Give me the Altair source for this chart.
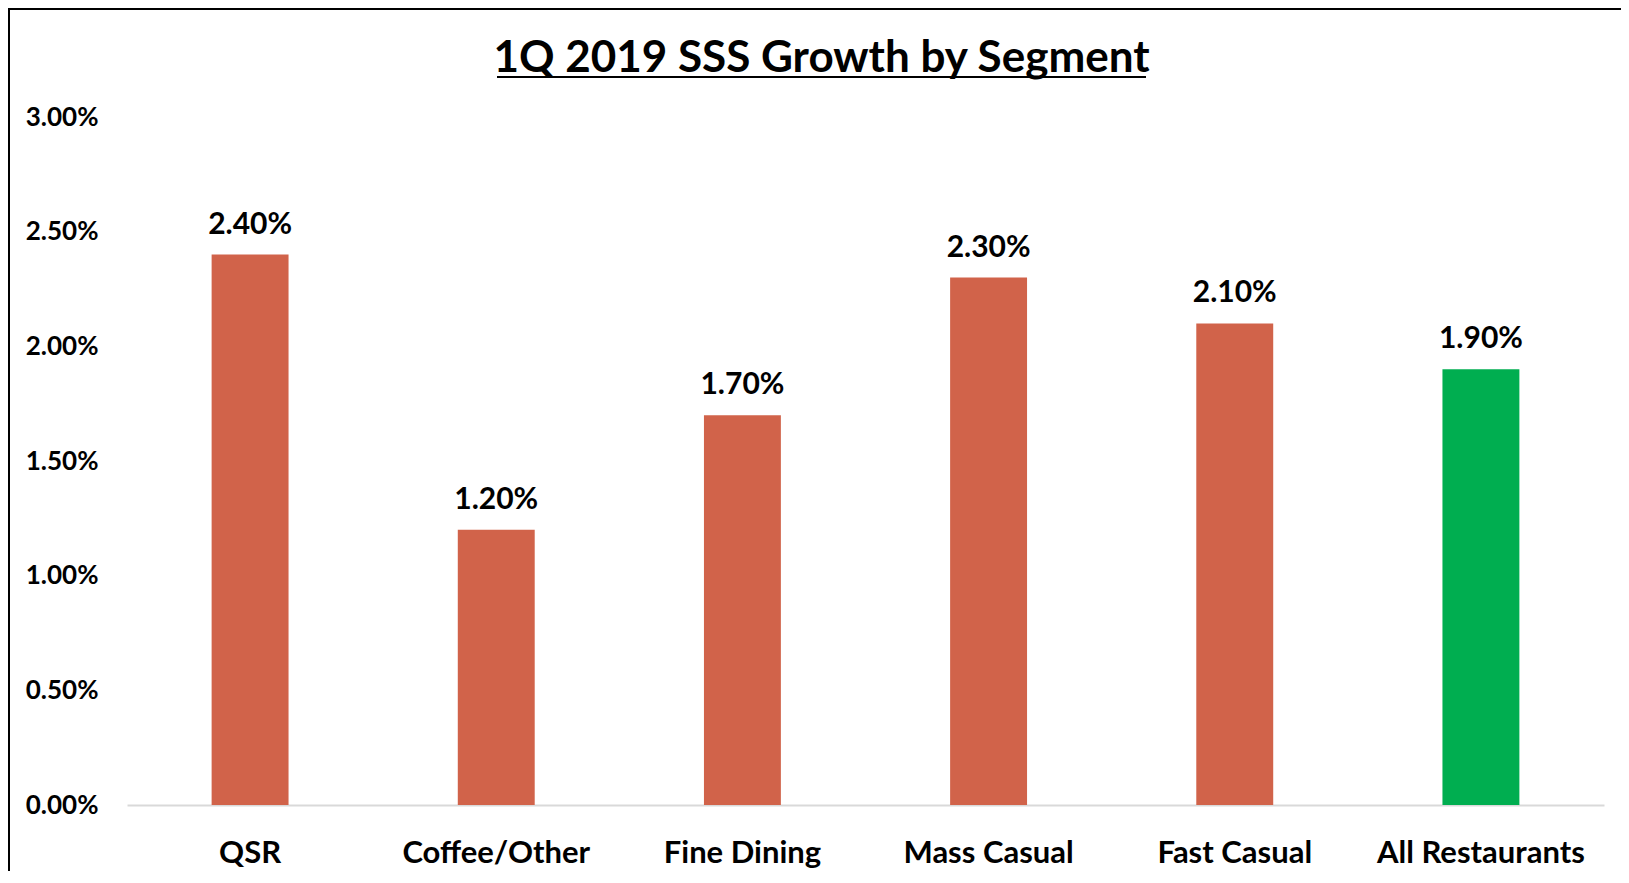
import altair as alt
import pandas as pd

# ---- data ----
title_text = "1Q 2019 SSS Growth by Segment"
segments = ["QSR", "Coffee/Other", "Fine Dining", "Mass Casual", "Fast Casual", "All Restaurants"]
growth = [0.024, 0.012, 0.017, 0.023, 0.021, 0.019]
bar_colors = ["#D1634A", "#D1634A", "#D1634A", "#D1634A", "#D1634A", "#00AE50"]
y_ticks = [0.0, 0.005, 0.01, 0.015, 0.02, 0.025, 0.03]

df = pd.DataFrame({"segment": segments, "value": growth, "color": bar_colors})
tdf = pd.DataFrame({"t": [title_text]})

W, H = 1477, 688
FONT = "Lato"

x_enc = alt.X(
    "segment:N",
    sort=segments,
    scale=alt.Scale(paddingInner=0.6875, paddingOuter=0.34375),
    axis=alt.Axis(
        title=None, labelAngle=0, labelFont=FONT, labelFontSize=31, labelFontWeight="bold",
        labelColor="black", labelBaseline="alphabetic", labelPadding=57, labelLimit=0,
        ticks=False, tickSize=0, domainColor="#D9D9D9", domainWidth=2, grid=False,
    ),
)
y_enc = alt.Y(
    "value:Q",
    scale=alt.Scale(domain=[0, 0.03], nice=False),
    axis=alt.Axis(
        title=None, values=y_ticks, format=".2%", grid=False, domain=False,
        ticks=False, tickSize=0, labelPadding=29, labelFont=FONT, labelFontSize=26,
        labelFontWeight="bold", labelColor="black",
    ),
)

base = alt.Chart(df)
bars = base.mark_bar().encode(x=x_enc, y=y_enc, color=alt.Color("color:N", scale=None))
labels = base.mark_text(
    font=FONT, fontSize=30, fontWeight="bold", baseline="alphabetic", dy=-21, color="black"
).encode(x=alt.X("segment:N", sort=segments), y="value:Q", text=alt.Text("value:Q", format=".2%"))

tbase = alt.Chart(tdf)
title = tbase.mark_text(
    font=FONT, fontSize=44, fontWeight="bold", baseline="alphabetic", align="center", color="black"
).encode(x=alt.value(694.5), y=alt.value(-45), text="t:N")
underline = tbase.mark_rule(color="black", strokeWidth=2).encode(
    x=alt.value(370), x2=alt.value(1019), y=alt.value(-40)
)
border_top = tbase.mark_rule(color="black", strokeWidth=2).encode(
    x=alt.value(-119), x2=alt.value(W + 17), y=alt.value(-108)
)
border_left = tbase.mark_rule(color="black", strokeWidth=2).encode(
    x=alt.value(-118), y=alt.value(-109), y2=alt.value(H + 66)
)

chart = alt.layer(bars, labels, title, underline, border_top, border_left).properties(
    width=W, height=H,
    autosize=alt.AutoSizeParams(type="none"),
    padding={"left": 119, "top": 109, "right": 17, "bottom": 66},
).configure_view(stroke=None)

chart.save("out.html", embed_options={"renderer": "svg", "actions": False})
